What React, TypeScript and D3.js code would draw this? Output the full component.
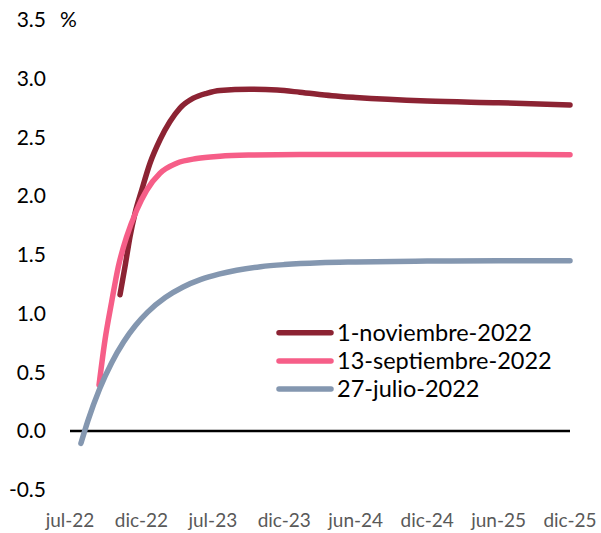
import React from "react";
import * as d3 from "d3";

// Month offsets from jul-22 (0) and policy-rate expectations (%)
const novMonths = [4.2, 4.62, 5.04, 5.46, 6.02, 6.72, 7.56, 8.4, 9.24, 10.36, 11.48, 12.6, 15.1, 17.4, 19.3, 22, 24, 30, 36, 42];
const novValues = [1.16, 1.4, 1.655, 1.854, 2.05, 2.28, 2.48, 2.635, 2.75, 2.834, 2.876, 2.9, 2.91, 2.903, 2.885, 2.855, 2.84, 2.81, 2.795, 2.777];

const sepMonths = [2.44, 2.94, 3.5, 4.06, 4.76, 5.6, 6.44, 7.56, 8.96, 10.64, 12.6, 15.1, 19.3, 24, 30, 36, 42];
const sepValues = [0.392, 0.775, 1.1, 1.4, 1.655, 1.88, 2.05, 2.195, 2.28, 2.32, 2.34, 2.35, 2.355, 2.355, 2.355, 2.355, 2.353];

const julMonths = [0.92, 1.5, 2.5, 3.5, 4.5, 5.5, 6.5, 8, 9.5, 11, 12.5, 14, 16, 18, 21, 24, 30, 36, 42];
const julValues = [-0.105, 0.086, 0.362, 0.582, 0.758, 0.898, 1.01, 1.136, 1.226, 1.291, 1.336, 1.369, 1.399, 1.417, 1.433, 1.44, 1.447, 1.449, 1.449];

const xTickMonths = [0, 6, 12, 18, 24, 30, 36, 42];
const xTickLabels = ["jul-22", "dic-22", "jul-23", "dic-23", "jun-24", "dic-24", "jun-25", "dic-25"];
const yTicks = [-0.5, 0, 0.5, 1, 1.5, 2, 2.5, 3, 3.5];

const seriesNames = ["1-noviembre-2022", "13-septiembre-2022", "27-julio-2022"];
const seriesColors = ["#8C2333", "#F65E88", "#8497B0"];

const W = 601;
const H = 533;

export default function App() {
  const x = d3.scaleLinear().domain([0, 42]).range([70, 570]);
  const y = d3.scaleLinear().domain([-0.5, 3.5]).range([489.7, 20]);
  const series = [
    { months: novMonths, values: novValues },
    { months: sepMonths, values: sepValues },
    { months: julMonths, values: julValues },
  ];
  const line = d3
    .line<[number, number]>()
    .x((d) => x(d[0]))
    .y((d) => y(d[1]))
    .curve(d3.curveMonotoneX);
  const font = "Lato, 'Open Sans', sans-serif";

  return (
    <svg
      width={W}
      height={H}
      style={{ position: "absolute", left: 0, top: 0, background: "#fff" }}
      fontFamily={font}
    >
      {yTicks.map((t) => (
        <text
          key={t}
          x={46}
          y={y(t)}
          dy="0.35em"
          textAnchor="end"
          fontSize={21}
          fill="#000"
        >
          {t.toFixed(1)}
        </text>
      ))}
      <text x={60} y={y(3.5)} dy="0.35em" fontSize={21} fill="#000">
        %
      </text>
      {xTickMonths.map((m, i) => (
        <text
          key={m}
          x={x(m)}
          y={527}
          textAnchor="middle"
          fontSize={19}
          fill="#595959"
        >
          {xTickLabels[i]}
        </text>
      ))}
      <line x1={x(0)} x2={x(42)} y1={y(0)} y2={y(0)} stroke="#000" strokeWidth={2.5} />
      {series.map((s, i) => (
        <path
          key={i}
          d={line(s.months.map((m, j) => [m, s.values[j]] as [number, number])) || ""}
          fill="none"
          stroke={seriesColors[i]}
          strokeWidth={5.5}
          strokeLinecap="round"
          strokeLinejoin="round"
        />
      ))}
      {seriesNames.map((n, i) => {
        const ly = 332.7 + i * 28.2;
        return (
          <g key={n}>
            <line
              x1={279}
              x2={331}
              y1={ly}
              y2={ly}
              stroke={seriesColors[i]}
              strokeWidth={5.5}
              strokeLinecap="round"
            />
            <text x={337} y={ly} dy="0.35em" fontSize={23.5} fill="#000">
              {n}
            </text>
          </g>
        );
      })}
    </svg>
  );
}
